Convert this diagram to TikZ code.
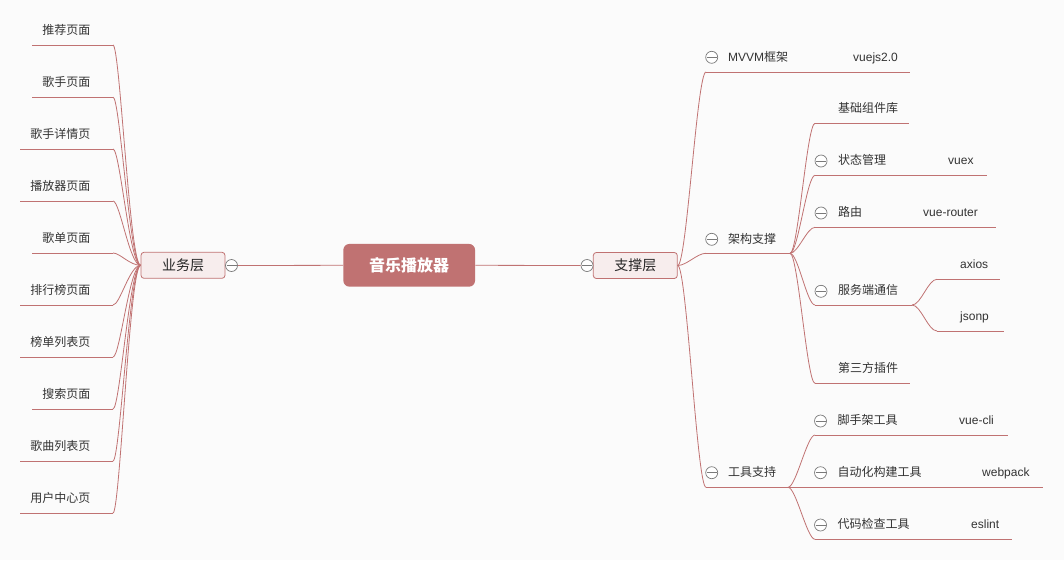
\documentclass[tikz,border=0pt]{standalone}
\usepackage{fontspec}
\setmainfont{Liberation Sans}
\newfontfamily\cjk{Noto Sans CJK SC}
\definecolor{br}{HTML}{C07272}
\definecolor{boxf}{HTML}{F7EDED}
\definecolor{bgc}{HTML}{FBFBFB}
\definecolor{tg}{HTML}{7A7A7A}
\definecolor{txt}{HTML}{333333}
\begin{document}
\begin{tikzpicture}[x=1pt,y=-1pt,
  lbl/.style={inner sep=0pt, anchor=base west, font=\fontsize{12}{14}\selectfont, text=txt},
  lblr/.style={lbl, anchor=base east},
  link/.style={draw=br, line width=0.8pt},
  tog/.style={circle, draw=tg, fill=white, minimum size=12pt, inner sep=0pt, line width=0.7pt,
    path picture={\draw[tg, line width=0.7pt] ([xshift=-5pt]path picture bounding box.center) -- ([xshift=5pt]path picture bounding box.center);}},
  box/.style={draw=br, fill=boxf, rounded corners=3pt, line width=0.8pt, minimum width=84pt, minimum height=26pt, inner sep=0pt, font=\fontsize{14}{16}\selectfont\cjk, text=black!85},
  root/.style={fill=br, rounded corners=6pt, minimum width=131.7pt, minimum height=42.7pt, inner sep=0pt, font=\fontsize{16}{18}\selectfont\cjk\bfseries, text=white},
]
\fill[bgc] (0,0) rectangle (1064,560);

% central nodes
\node[root] (root) at (409.2,265.3) {音乐播放器};
\node[box] (yw) at (183,265.3) {业务层};
\node[box] (zc) at (635.3,265.5) {支撑层};
\node[tog] (t1) at (231.5,265.5) {};
\node[tog] (t2) at (587,265.5) {};
\draw[link] (t1.east) -- (root.west);
\draw[link] (root.east) -- (t2.west);

% left branch
\foreach \i/\xs/\t in {1/32/推荐页面,2/32/歌手页面,3/20/歌手详情页,4/20/播放器页面,5/32/歌单页面,6/20/排行榜页面,7/20/榜单列表页,8/32/搜索页面,9/20/歌曲列表页,10/20/用户中心页}{
  \pgfmathsetmacro{\yy}{45+52*(\i-1)}
  \coordinate (ls\i) at (\xs,\yy);
  \coordinate (le\i) at (113,\yy);
  \node[lblr] (L\i) at (90.5,\yy-10.5) {\cjk \t};
  \draw[link] (ls\i) -- (le\i);
  \draw[link] (le\i) .. controls +(7,0) and +(-11,0) .. (yw.west);
}

% right branch level 1
\coordinate (a1s) at (706,72); \coordinate (a1e) at (910,72);
\coordinate (a2s) at (706,253.3); \coordinate (a2e) at (790,253.3);
\coordinate (a3s) at (706,487.3); \coordinate (a3e) at (788,487.3);
\node[tog] (ta1) at (711.7,57.3) {};
\node[lbl] (A1) at (728,61.5) {MVVM{\cjk 框架}};
\node[lbl] (A1b) at (853,61.5) {vuejs2.0};
\node[tog] (ta2) at (711.7,239.3) {};
\node[lbl] (A2) at (728,243) {\cjk 架构支撑};
\node[tog] (ta3) at (711.7,472.7) {};
\node[lbl] (A3) at (728,476.8) {\cjk 工具支持};
\foreach \k in {1,2,3}{
  \draw[link] (a\k s) -- (a\k e);
  \draw[link] (zc.east) .. controls +(9,0) and +(-9,0) .. (a\k s);
}

% level 2 under 架构支撑
\coordinate (b1s) at (815,123.3); \coordinate (b1e) at (909,123.3);
\coordinate (b2s) at (815,175.3); \coordinate (b2e) at (987,175.3);
\coordinate (b3s) at (815,227.3); \coordinate (b3e) at (996,227.3);
\coordinate (b4s) at (815,305); \coordinate (b4e) at (912,305);
\coordinate (b5s) at (815,383.3); \coordinate (b5e) at (910,383.3);
\node[lbl] (B1) at (838,112.8) {\cjk 基础组件库};
\node[tog] (tb2) at (821,161) {};
\node[lbl] (B2) at (838,164.8) {\cjk 状态管理};
\node[lbl] (B2b) at (948,164.8) {vuex};
\node[tog] (tb3) at (821,213) {};
\node[lbl] (B3) at (838,216.8) {\cjk 路由};
\node[lbl] (B3b) at (923,216.8) {vue-router};
\node[tog] (tb4) at (821,291.3) {};
\node[lbl] (B4) at (838,294.5) {\cjk 服务端通信};
\node[lbl] (B5) at (838,372.8) {\cjk 第三方插件};
\foreach \k in {1,...,5}{
  \draw[link] (b\k s) -- (b\k e);
  \draw[link] (a2e) .. controls +(8,0) and +(-8,0) .. (b\k s);
}

% level 3 under 服务端通信
\coordinate (c1s) at (937,279.3); \coordinate (c1e) at (1000,279.3);
\coordinate (c2s) at (937,331); \coordinate (c2e) at (1004,331);
\node[lbl] (C1) at (960,268.8) {axios};
\node[lbl] (C2) at (960,320.5) {jsonp};
\foreach \k in {1,2}{
  \draw[link] (c\k s) -- (c\k e);
  \draw[link] (b4e) .. controls +(9,0) and +(-9,0) .. (c\k s);
}

% level 2 under 工具支持
\coordinate (d1s) at (815,435); \coordinate (d1e) at (1008,435);
\coordinate (d2e) at (1043,487.3);
\coordinate (d3s) at (815,539.3); \coordinate (d3e) at (1012,539.3);
\node[tog] (td1) at (820.5,421) {};
\node[lbl] (D1) at (837.5,424.5) {\cjk 脚手架工具};
\node[lbl] (D1b) at (959,424.5) {vue-cli};
\node[tog] (td2) at (820.5,472.7) {};
\node[lbl] (D2) at (837.5,476.8) {\cjk 自动化构建工具};
\node[lbl] (D2b) at (982,476.8) {webpack};
\node[tog] (td3) at (820.5,525) {};
\node[lbl] (D3) at (837.5,528.8) {\cjk 代码检查工具};
\node[lbl] (D3b) at (971,528.8) {eslint};
\draw[link] (a3e) -- (d2e);
\foreach \k in {1,3}{
  \draw[link] (d\k s) -- (d\k e);
  \draw[link] (a3e) .. controls +(8,0) and +(-8,0) .. (d\k s);
}
\end{tikzpicture}
\end{document}
